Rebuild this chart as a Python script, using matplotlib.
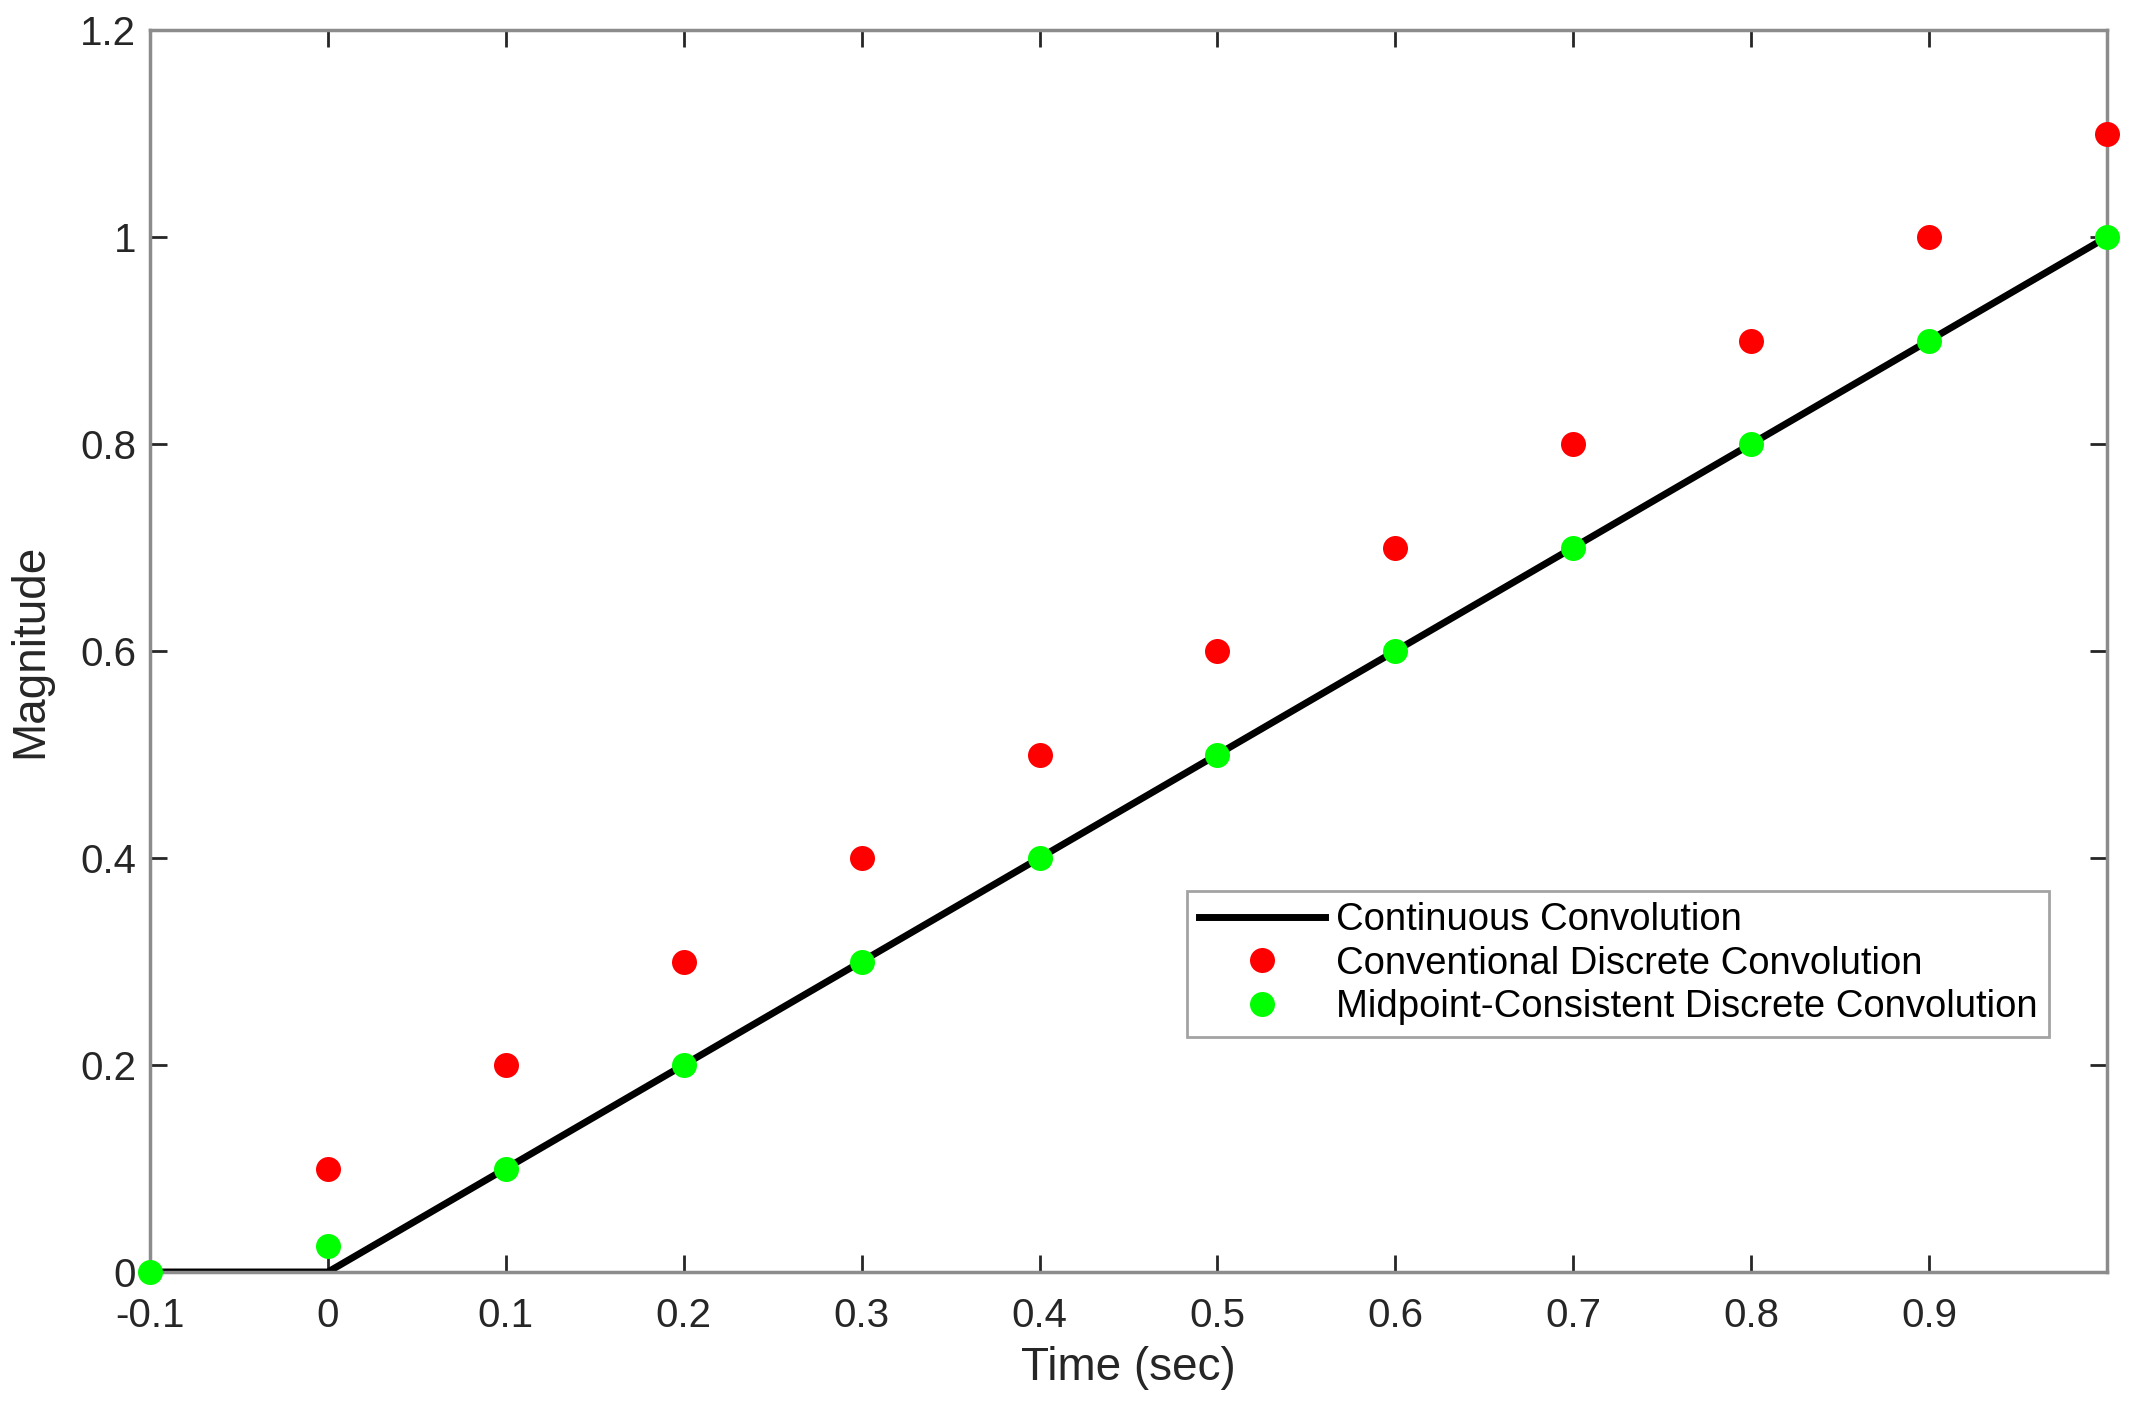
import numpy as np
import matplotlib
matplotlib.use('Agg')
import matplotlib.pyplot as plt

plt.rcParams['font.family'] = ['Liberation Sans', 'DejaVu Sans']

# continuous convolution (ramp)
t_cont = [-0.1, 0.0, 1.0]
y_cont = [0.0, 0.0, 1.0]

# conventional discrete convolution
t_conv = [0.0, 0.1, 0.2, 0.3, 0.4, 0.5, 0.6, 0.7, 0.8, 0.9, 1.0]
y_conv = [0.1, 0.2, 0.3, 0.4, 0.5, 0.6, 0.7, 0.8, 0.9, 1.0, 1.1]

# midpoint-consistent discrete convolution
t_mid = [-0.1, 0.0, 0.1, 0.2, 0.3, 0.4, 0.5, 0.6, 0.7, 0.8, 0.9, 1.0]
y_mid = [0.0, 0.025, 0.1, 0.2, 0.3, 0.4, 0.5, 0.6, 0.7, 0.8, 0.9, 1.0]

xticks = [-0.1, 0, 0.1, 0.2, 0.3, 0.4, 0.5, 0.6, 0.7, 0.8, 0.9]
xticklabels = ['-0.1', '0', '0.1', '0.2', '0.3', '0.4', '0.5', '0.6', '0.7', '0.8', '0.9']
yticks = [0, 0.2, 0.4, 0.6, 0.8, 1.0, 1.2]
yticklabels = ['0', '0.2', '0.4', '0.6', '0.8', '1', '1.2']

fig = plt.figure(figsize=(21.33, 14.06), dpi=100)
ax = fig.add_axes([150/2133, 1 - 1272/1406, (2107-150)/2133, (1272-30)/1406])

ax.plot(t_cont, y_cont, color='black', lw=5, label='Continuous Convolution', zorder=2)
ax.plot(t_conv, y_conv, 'o', color='#ff0000', ms=18, mec='none',
        label='Conventional Discrete Convolution', clip_on=False, zorder=3)
ax.plot(t_mid, y_mid, 'o', color='#00ff00', ms=18, mec='none',
        label='Midpoint-Consistent Discrete Convolution', clip_on=False, zorder=3)

ax.set_xlim(-0.1, 1.0)
ax.set_ylim(0, 1.2)
ax.set_xticks(xticks)
ax.set_xticklabels(xticklabels)
ax.set_yticks(yticks)
ax.set_yticklabels(yticklabels)
ax.tick_params(direction='in', length=12, width=2, color='#262626', labelsize=29,
               top=True, right=True, labelcolor='#262626')
ax.tick_params(axis='x', pad=18)
ax.tick_params(axis='y', pad=10)
for s in ax.spines.values():
    s.set_color('#8c8c8c')
    s.set_linewidth(2.5)

ax.set_xlabel('Time (sec)', fontsize=33, color='#262626', labelpad=8)
ax.set_ylabel('Magnitude', fontsize=33, color='#262626', labelpad=20)

leg = ax.legend(loc='upper left', bbox_to_anchor=(0.530, 0.307), fontsize=27.5,
                frameon=True, fancybox=False, edgecolor='#8c8c8c', handlelength=3.3,
                handletextpad=0.3, borderpad=0.3, labelspacing=0.2, borderaxespad=0)
leg.get_frame().set_linewidth(2)

fig.savefig('out.png', dpi=100)
